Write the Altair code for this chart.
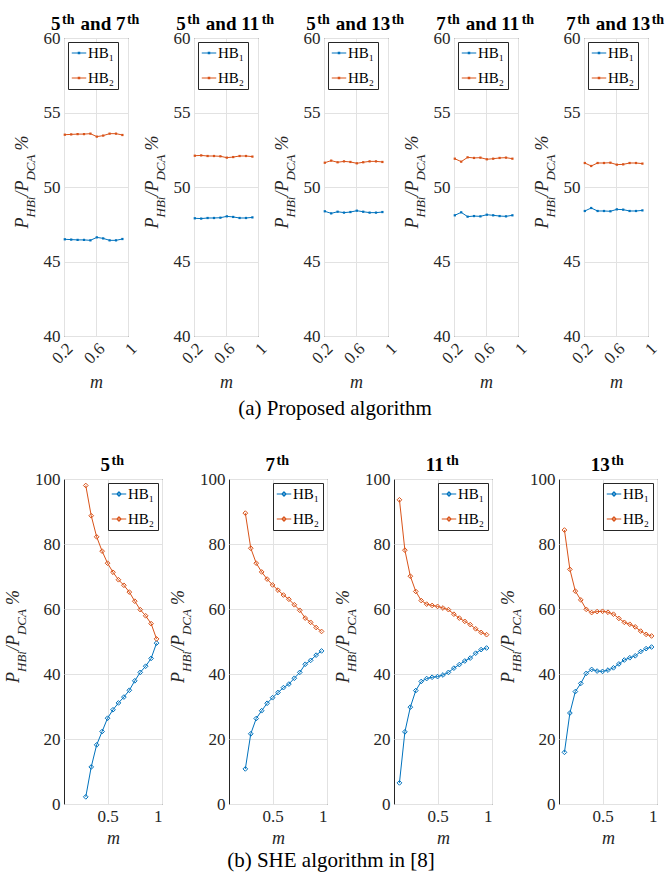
import altair as alt
import pandas as pd

FONT = "Liberation Serif"
INK = "#262626"
BLUE = "#0072BD"
ORANGE = "#D95319"
S1 = "HB\u2081"
S2 = "HB\u2082"

# ---------------- (a) Proposed algorithm ----------------
m_top = [0.21, 0.29, 0.37, 0.45, 0.53, 0.61, 0.69, 0.77, 0.85, 0.93]
top_titles = [("5", "7"), ("5", "11"), ("5", "13"), ("7", "11"), ("7", "13")]
top_hb1 = [
    [46.49, 46.47, 46.45, 46.45, 46.42, 46.62, 46.55, 46.42, 46.42, 46.51],
    [47.90, 47.88, 47.92, 47.92, 47.94, 48.03, 47.99, 47.92, 47.92, 47.96],
    [48.37, 48.23, 48.34, 48.28, 48.32, 48.41, 48.34, 48.28, 48.28, 48.32],
    [48.10, 48.30, 48.01, 48.05, 48.03, 48.14, 48.10, 48.05, 48.03, 48.10],
    [48.39, 48.59, 48.39, 48.39, 48.37, 48.50, 48.48, 48.39, 48.39, 48.43],
]
top_hb2 = [
    [53.51, 53.53, 53.55, 53.55, 53.58, 53.38, 53.45, 53.58, 53.58, 53.49],
    [52.10, 52.12, 52.08, 52.08, 52.06, 51.97, 52.01, 52.08, 52.08, 52.04],
    [51.63, 51.77, 51.66, 51.72, 51.68, 51.59, 51.66, 51.72, 51.72, 51.68],
    [51.90, 51.70, 51.99, 51.95, 51.97, 51.86, 51.90, 51.95, 51.97, 51.90],
    [51.61, 51.41, 51.61, 51.61, 51.63, 51.50, 51.52, 51.61, 51.61, 51.57],
]

# ---------------- (b) SHE algorithm in [8] ----------------
bot_titles = ["5", "7", "11", "13"]
bot_m = [
    [0.30, 0.35, 0.40, 0.45, 0.50, 0.55, 0.60, 0.65, 0.70, 0.75, 0.80, 0.85, 0.90, 0.95],
    [0.25, 0.30, 0.35, 0.40, 0.45, 0.50, 0.55, 0.60, 0.65, 0.70, 0.75, 0.80, 0.85, 0.90, 0.95],
    [0.15, 0.20, 0.25, 0.30, 0.35, 0.40, 0.45, 0.50, 0.55, 0.60, 0.65, 0.70, 0.75, 0.80, 0.85, 0.90, 0.95],
    [0.15, 0.20, 0.25, 0.30, 0.35, 0.40, 0.45, 0.50, 0.55, 0.60, 0.65, 0.70, 0.75, 0.80, 0.85, 0.90, 0.95],
]
bot_hb1 = [
    [2.2, 11.4, 18.2, 22.3, 26.4, 29.0, 31.1, 32.9, 35.0, 37.9, 40.5, 42.4, 44.8, 49.5],
    [10.8, 21.6, 26.3, 28.7, 31.0, 32.7, 34.3, 35.8, 36.9, 38.7, 40.5, 43.0, 44.2, 45.8, 47.1],
    [6.5, 22.2, 29.8, 34.9, 37.7, 38.6, 39.0, 39.2, 39.7, 40.5, 41.8, 42.9, 44.0, 44.9, 46.4, 47.5, 48.0],
    [15.9, 28.0, 34.6, 37.1, 40.2, 41.4, 40.9, 40.8, 41.2, 41.9, 43.1, 44.3, 45.0, 45.6, 46.9, 47.8, 48.3],
]
bot_hb2 = [
    [98.0, 88.7, 82.2, 77.8, 74.1, 71.3, 69.0, 67.3, 65.2, 62.4, 59.8, 57.9, 55.5, 50.8],
    [89.5, 78.7, 74.1, 71.4, 69.2, 67.4, 65.8, 64.3, 63.0, 61.3, 59.6, 57.2, 55.9, 54.3, 53.1],
    [93.6, 78.1, 70.1, 65.4, 62.6, 61.5, 61.1, 60.8, 60.3, 59.8, 58.4, 57.2, 56.2, 55.2, 53.9, 52.8, 52.1],
    [84.3, 72.2, 65.5, 62.8, 59.9, 58.9, 59.2, 59.3, 59.0, 58.4, 57.1, 55.9, 55.3, 54.5, 53.2, 52.2, 51.7],
]

# approximate glyph advance widths (Times metrics, per 1000 em)
BOLD = {"0": 500, "1": 500, "3": 500, "5": 500, "7": 500, "t": 333, "h": 556,
        " ": 250, "a": 500, "n": 556, "d": 556}
ITAL = {"P": 611, "H": 722, "B": 611, "i": 278, "/": 278, "D": 722, "C": 667,
        "A": 611, " ": 250, "%": 833}

ONE = pd.DataFrame({"k": [0]})


def twidth(text, size, table):
    return sum(table.get(c, 500) for c in text) / 1000.0 * size


def title_layers(w, parts):
    pieces = [(t, 14 if sup else 19, -6.5 if sup else 0, gap) for t, sup, gap in parts]
    widths = [twidth(t, s, BOLD) for t, s, _, _ in pieces]
    total = sum(widths) + sum(p[3] for p in pieces) + 1.5 * len(pieces)
    x = w / 2 - total / 2
    out = []
    for (t, s, r, gap), wd in zip(pieces, widths):
        x += gap
        out.append(
            alt.Chart(ONE).mark_text(
                text=t, font=FONT, fontSize=s, fontWeight="bold", align="left",
                baseline="alphabetic", color="black"
            ).encode(x=alt.value(x), y=alt.value(-8 + r))
        )
        x += wd + 1.5
    return out


def ylabel_layers(h, xbase, shift=7, main=18, sub=13, ghost_x=None):
    pieces = [("P", main, 0, 0), ("HBi", sub, shift, 0), ("/P", main, 0, 0),
              ("DCA", sub, shift, 0), ("%", main, 0, 4)]
    widths = [twidth(t, s, ITAL) for t, s, _, _ in pieces]
    total = sum(widths) + 4
    y = h / 2 + total / 2 - 5
    out = []
    for (t, s, d, gap), wd in zip(pieces, widths):
        y -= gap
        out.append(
            alt.Chart(ONE).mark_text(
                text=t, angle=270, font=FONT, fontSize=s, fontStyle="italic",
                align="left", baseline="alphabetic", color=INK
            ).encode(x=alt.value(xbase + d), y=alt.value(y))
        )
        y -= wd
    if ghost_x is not None:
        # invisible copy that only widens the row's left bound for alignment
        out.append(
            alt.Chart(ONE).mark_text(
                text="P", angle=270, font=FONT, fontSize=main, fontStyle="italic",
                align="left", baseline="alphabetic", opacity=0
            ).encode(x=alt.value(ghost_x), y=alt.value(h / 2))
        )
    return out


def panel(m, hb1, hb2, w, h, xdom, xticks, ydom, yticks, title_parts,
          legend_orient, top_style, ylab_x, label_angle, ghost_x=None):
    df = pd.DataFrame({
        "m": list(m) + list(m),
        "v": list(hb1) + list(hb2),
        "s": [S1] * len(m) + [S2] * len(m),
    })
    if top_style:
        sym = "M-1,0L1,0M-0.1,-0.1L0.1,-0.1L0.1,0.1L-0.1,0.1Z"
    else:
        sym = "M-1,0L1,0M0,-0.3L0.3,0L0,0.3L-0.3,0Z"
    xax = dict(values=xticks, format="~g", title="m", labelPadding=4,
               titlePadding=7 if top_style else 5)
    if label_angle is not None:
        xax["labelAngle"] = label_angle
    enc = dict(
        x=alt.X("m:Q", scale=alt.Scale(domain=xdom, nice=False, zero=False),
                axis=alt.Axis(**xax)),
        y=alt.Y("v:Q", scale=alt.Scale(domain=ydom, nice=False, zero=False),
                axis=alt.Axis(values=yticks, title=None, labelPadding=4)),
        color=alt.Color(
            "s:N",
            scale=alt.Scale(domain=[S1, S2], range=[BLUE, ORANGE]),
            legend=alt.Legend(
                title=None, orient=legend_orient, offset=4, symbolType=sym,
                symbolSize=210, symbolStrokeWidth=1.1, labelFont=FONT,
                labelFontSize=15, labelColor="black", strokeColor=INK,
                fillColor="white", padding=3, rowPadding=9, labelOffset=1,
                cornerRadius=0,
            ),
        ),
    )
    base = alt.Chart(df)
    line = base.mark_line(strokeWidth=1).encode(**enc)
    if top_style:
        pts = base.mark_point(shape="square", filled=True, size=5, opacity=1).encode(**enc)
    else:
        pts = base.mark_point(shape="diamond", filled=False, size=22,
                              strokeWidth=1, opacity=1).encode(**enc)
    layers = [line, pts] + title_layers(w, title_parts) + ylabel_layers(h, ylab_x, ghost_x=ghost_x)
    return alt.layer(*layers).properties(width=w, height=h)


TW, TH = 64, 298
BW, BH = 98, 325

top_panels = []
for i, (a, b) in enumerate(top_titles):
    parts = [(a, False, 0), ("th", True, 0), ("and " + b, False, 4.5), ("th", True, 0)]
    top_panels.append(panel(
        m_top, top_hb1[i], top_hb2[i], TW, TH, [0.2, 1.0], [0.2, 0.6, 1.0],
        [40, 60], [40, 45, 50, 55, 60], parts, "top-left", True, -36, 315,
        ghost_x=(-44 if i == 0 else None)))

bot_panels = []
for i, n in enumerate(bot_titles):
    parts = [(n, False, 0), ("th", True, 0)]
    bot_panels.append(panel(
        bot_m[i], bot_hb1[i], bot_hb2[i], BW, BH, [0.1, 1.0], [0.5, 1.0],
        [0, 100], [0, 20, 40, 60, 80, 100], parts, "top-right", False, -45, None))

cap = dict(orient="bottom", anchor="middle", font=FONT, fontSize=21,
           fontWeight="normal", color="black")

row_a = alt.hconcat(*top_panels, spacing=66, bounds="flush").resolve_scale(
    x="independent", y="independent", color="independent"
).resolve_legend(color="independent").properties(
    title=alt.TitleParams("(a) Proposed algorithm", offset=6, **cap))

row_b = alt.hconcat(*bot_panels, spacing=67, bounds="flush").resolve_scale(
    x="independent", y="independent", color="independent"
).resolve_legend(color="independent").properties(
    title=alt.TitleParams("(b)  SHE algorithm in [8]", offset=2, **cap))

chart = alt.vconcat(row_a, row_b, spacing=34).properties(
    padding={"left": 4, "top": 12, "right": 2, "bottom": 4}
).configure(font=FONT).configure_view(
    stroke=INK, strokeWidth=1
).configure_axis(
    labelFont=FONT, labelFontSize=17, labelColor=INK, titleFont=FONT,
    titleFontSize=18, titleFontStyle="italic", titleFontWeight="normal",
    titleColor=INK, domain=False, ticks=False, grid=True,
    gridColor="#e2e2e2", gridWidth=1
)

chart.save("out.html", embed_options={"renderer": "svg", "actions": False})
